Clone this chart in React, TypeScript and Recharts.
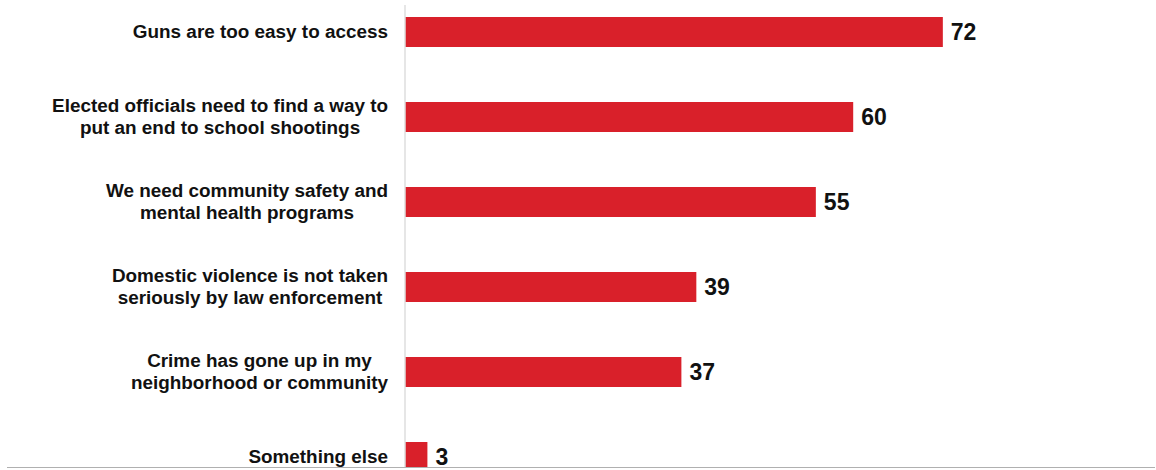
import React from "react";
import { BarChart, Bar, XAxis, YAxis, LabelList } from "recharts";

const categories: string[] = [
  "Guns are too easy to access",
  "Elected officials need to find a way to\nput an end to school shootings",
  "We need community safety and\nmental health programs",
  "Domestic violence is not taken\nseriously by law enforcement",
  "Crime has gone up in my\nneighborhood or community",
  "Something else",
];
const values: number[] = [72, 60, 55, 39, 37, 3];

const data = categories.map((name, i) => ({ name, value: values[i] }));

const LABEL_FONT = "bold 18.9px 'Liberation Sans', Arial, sans-serif";

let canvasCtx: CanvasRenderingContext2D | null = null;
function measure(text: string): number {
  if (!canvasCtx) {
    const c = document.createElement("canvas");
    canvasCtx = c.getContext("2d");
  }
  if (!canvasCtx) return text.length * 10;
  canvasCtx.font = LABEL_FONT;
  return canvasCtx.measureText(text).width;
}

const CategoryTick = (props: any) => {
  const { x, y, payload } = props;
  const lines: string[] = String(payload.value).split("\n");
  const maxW = Math.max(...lines.map(measure));
  const right = x - 17;
  const cx = right - maxW / 2;
  const lh = 22;
  const startY = y - ((lines.length - 1) * lh) / 2;
  return (
    <g>
      {lines.map((ln, i) => (
        <text
          key={i}
          x={cx}
          y={startY + i * lh}
          dy="0.36em"
          textAnchor="middle"
          fill="#111111"
          style={{ font: LABEL_FONT }}
        >
          {ln}
        </text>
      ))}
    </g>
  );
};

export default function App() {
  return (
    <div
      style={{
        position: "absolute",
        left: 0,
        top: 0,
        width: 1156,
        height: 470,
        background: "#ffffff",
        overflow: "hidden",
      }}
    >
      <div
        style={{
          position: "absolute",
          left: 0,
          top: 5,
          width: 1156,
          height: 465,
          overflow: "hidden",
        }}
      >
        <div style={{ position: "absolute", left: 0, top: -16.5 }}>
          <BarChart
            width={1156}
            height={510}
            data={data}
            layout="vertical"
            margin={{ top: 0, right: 4, bottom: 0, left: 0 }}
          >
            <XAxis type="number" domain={[0, 100]} hide />
            <YAxis
              type="category"
              dataKey="name"
              width={405}
              axisLine={{ stroke: "#dedede", strokeWidth: 1.5 }}
              tickLine={false}
              tickSize={0}
              tickMargin={0}
              interval={0}
              tick={<CategoryTick />}
            />
            <Bar dataKey="value" fill="#d9202a" barSize={30} isAnimationActive={false}>
              <LabelList
                dataKey="value"
                position="right"
                offset={8}
                style={{ font: "bold 23px 'Liberation Sans', Arial, sans-serif", fill: "#111111" }}
              />
            </Bar>
          </BarChart>
        </div>
      </div>
      <div
        style={{
          position: "absolute",
          left: 0,
          top: 468,
          width: 1156,
          height: 2,
          background: "#ffffff",
        }}
      />
      <div
        style={{
          position: "absolute",
          left: 7,
          top: 467,
          width: 1148,
          height: 1,
          background: "#b0b0b0",
        }}
      />
    </div>
  );
}
